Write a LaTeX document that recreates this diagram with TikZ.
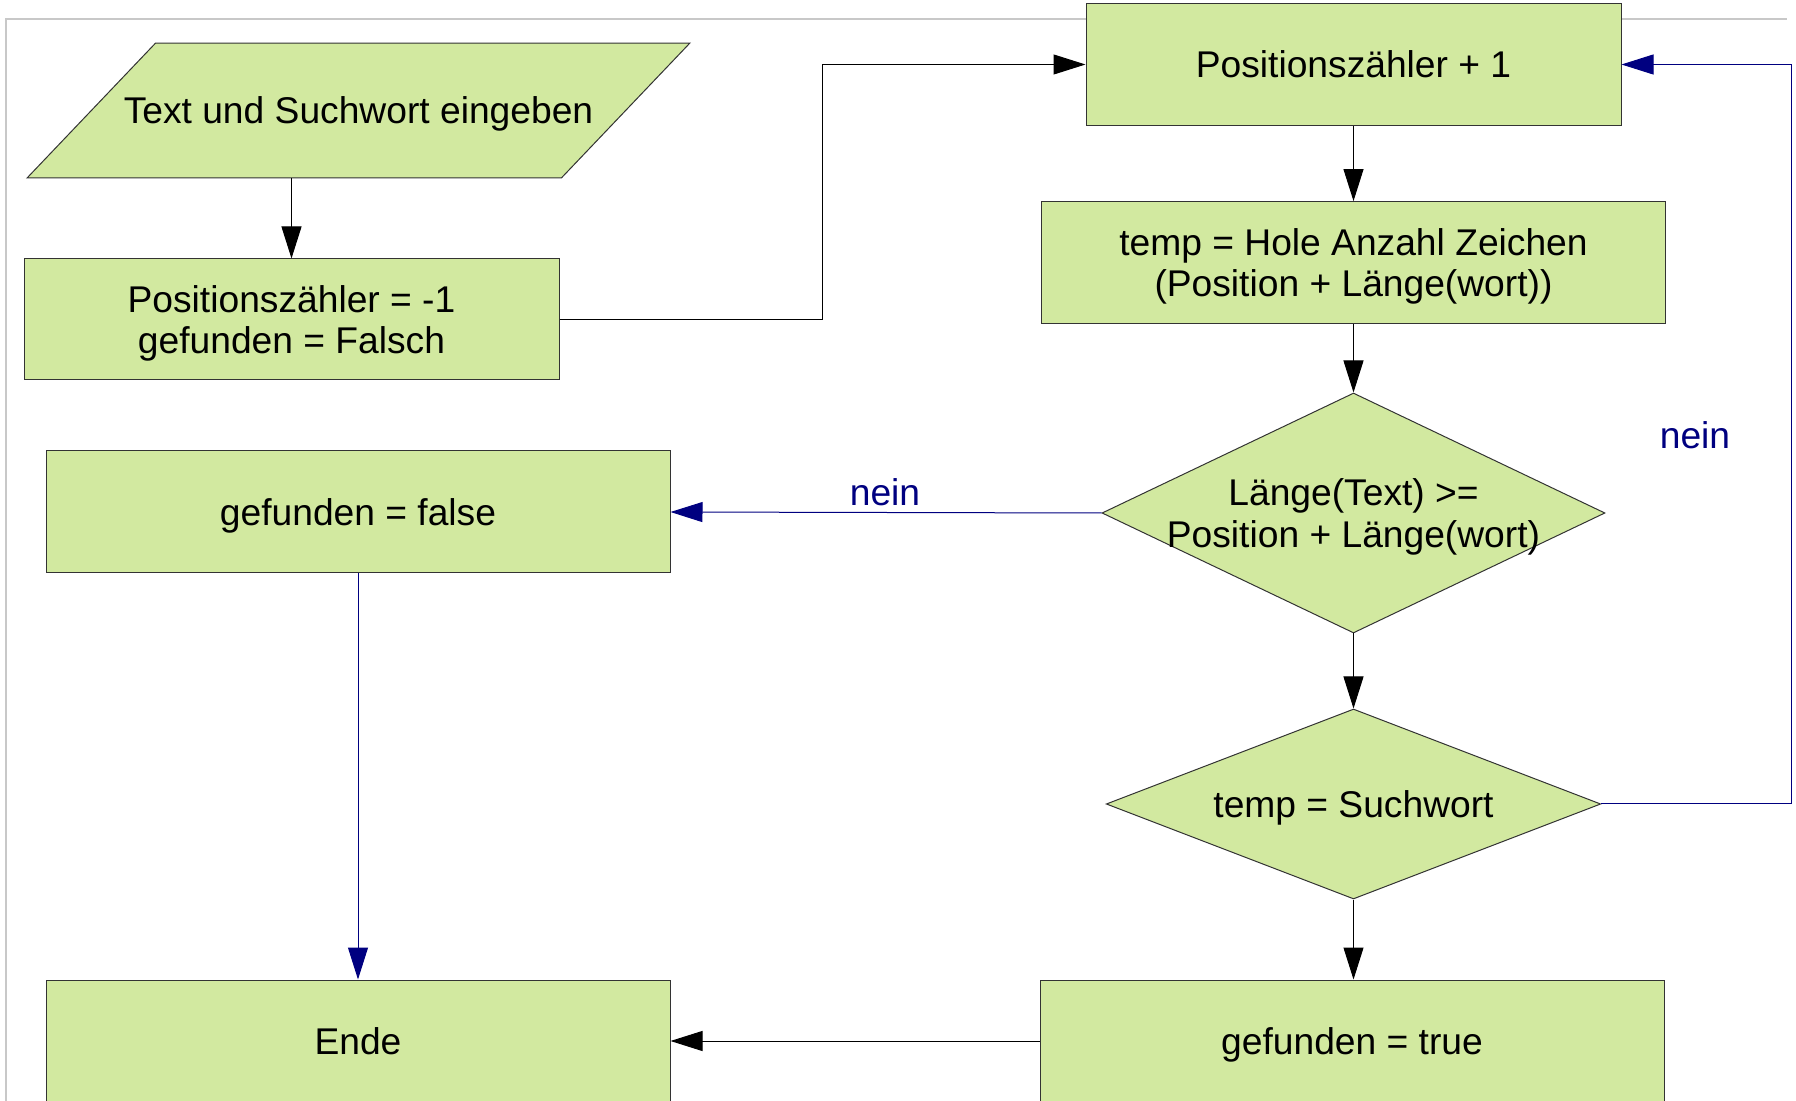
\documentclass[tikz,border=0pt]{standalone}
\usepackage{fontspec}
\setmainfont{Liberation Sans}
\usetikzlibrary{arrows.meta,shapes.geometric,backgrounds}
\definecolor{boxfill}{RGB}{210,233,160}
\definecolor{navyline}{RGB}{0,0,128}
\definecolor{framegray}{RGB}{200,200,200}
\tikzset{
  every node/.style={font=\fontsize{18.6}{20.6}\selectfont},
  flowbox/.style={draw=black!80, line width=0.5pt, fill=boxfill, rectangle, align=center, text depth=0pt},
  flowdia/.style={draw=black!80, line width=0.5pt, fill=boxfill, diamond, inner sep=0pt},
  diatext/.style={align=center, text depth=0pt},
  flowio/.style={rectangle, align=center, text depth=0pt},
  iofill/.style={draw=black!80, line width=0.5pt, fill=boxfill},
  flowarrow/.style={line width=0.5pt, draw=black, -{Triangle[length=16pt,width=10pt]}},
  noarrow/.style={line width=0.5pt, draw=navyline, -{Triangle[length=16pt,width=10pt]}},
  neinlabel/.style={text=navyline},
  pageframe/.style={draw=framegray, line width=1pt}
}
\begin{document}
\begin{tikzpicture}[x=0.5pt, y=-0.5pt]
  \useasboundingbox (0,0) rectangle (1796,1101);

  % left column
  \node[flowio, minimum width=266.75pt, minimum height=67pt] (input) at (358.5,110.5) {Text und Suchwort eingeben};
  \node[flowbox, minimum width=267.5pt, minimum height=60.5pt] (init) at (291.5,319.5) {Positionszähler = -1\\gefunden = Falsch};
  \node[flowbox, minimum width=312pt, minimum height=61pt] (notfound) at (358,512) {gefunden = false};
  \node[flowbox, minimum width=312pt, minimum height=61pt] (ende) at (358,1041) {Ende};

  % right column
  \node[flowbox, minimum width=267.5pt, minimum height=61pt] (plus) at (1353.5,64.5) {Positionszähler + 1};
  \node[flowbox, minimum width=312.25pt, minimum height=61.2pt] (temp) at (1353.5,262.8) {temp = Hole Anzahl Zeichen\\(Position + Länge(wort))};
  \node[flowdia, minimum width=251.5pt, minimum height=120pt,
        label={[diatext]center:Länge(Text) >=\\Position + Länge(wort)}] (lencheck) at (1353.5,513) {};
  \node[flowdia, minimum width=247.25pt, minimum height=95pt,
        label={[diatext]center:temp = Suchwort}] (match) at (1353.5,804) {};
  \node[flowbox, minimum width=312pt, minimum height=61pt] (found) at (1352,1041) {gefunden = true};

  % page frame and the slanted input shape, behind everything
  \begin{scope}[on background layer]
    \draw[pageframe] (5.7,1110) -- (5.7,19.5) -- (1787,19.5);
    \draw[iofill] ([xshift=32.1pt]input.north west) -- ([xshift=32.1pt]input.north east)
      -- ([xshift=-32.1pt]input.south east) -- ([xshift=-32.1pt]input.south west) -- cycle;
  \end{scope}

  % routing points
  \coordinate (jA) at (822,319.5);
  \coordinate (jB) at (1791,804);

  % connectors
  \draw[flowarrow] (input.south -| init.north) -- (init.north);
  \draw[flowarrow] (init.east) -- (jA) |- (plus.west);
  \draw[flowarrow] (plus.south) -- (temp.north);
  \draw[flowarrow] (temp.south) -- (lencheck.north);
  \draw[flowarrow] (lencheck.south) -- (match.north);
  \draw[flowarrow] (match.south) -- (match.south |- found.north);
  \draw[flowarrow] (found.west) -- (ende.east);
  \draw[noarrow] (lencheck.west) -- (notfound.east);
  \draw[noarrow] (match.east) -- (jB) |- (plus.east);
  \draw[noarrow] (notfound.south) -- (ende.north);

  % branch labels
  \node[neinlabel] (nein1) at (885,492) {nein};
  \node[neinlabel] (nein2) at (1695,435) {nein};
\end{tikzpicture}
\end{document}
